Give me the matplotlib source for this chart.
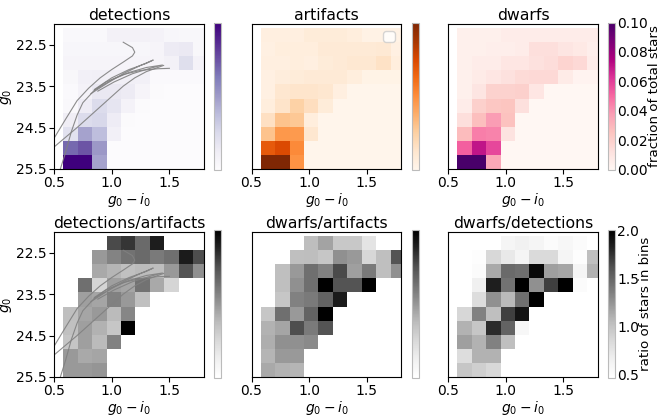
import numpy as np
import matplotlib
matplotlib.use('Agg')
import matplotlib.pyplot as plt

nan = np.nan

# histogram bin edges (colour g0-i0, magnitude g0)
color_edges = [0.58, 0.705, 0.83, 0.955, 1.08, 1.205, 1.33, 1.455, 1.58, 1.705, 1.83]
mag_edges = [22.1, 22.44, 22.78, 23.12, 23.46, 23.8, 24.14, 24.48, 24.82, 25.16, 25.5]

# fraction of total stars per bin, rows bright -> faint, columns blue -> red
detections = [
    [0.003, 0.003, 0.003, 0.009, 0.009, 0.009, 0.008, 0.005, 0.004, 0.004],
    [0.005, 0.005, 0.005, 0.005, 0.005, 0.005, 0.006, 0.014, 0.015, 0.004],
    [0.006, 0.006, 0.006, 0.006, 0.006, 0.006, 0.006, 0.009, 0.022, 0.008],
    [0.004, 0.010, 0.011, 0.011, 0.011, 0.010, 0.002, 0.002, 0.002, 0.002],
    [0.002, 0.008, 0.016, 0.016, 0.014, 0.006, 0.001, 0.000, 0.000, 0.000],
    [0.003, 0.013, 0.024, 0.018, 0.008, 0.001, 0.000, 0.000, 0.000, 0.000],
    [0.012, 0.024, 0.026, 0.013, 0.001, 0.000, 0.000, 0.000, 0.000, 0.000],
    [0.020, 0.047, 0.037, 0.010, 0.000, 0.000, 0.000, 0.000, 0.000, 0.000],
    [0.068, 0.074, 0.051, 0.000, 0.000, 0.000, 0.000, 0.000, 0.000, 0.000],
    [0.104, 0.104, 0.047, 0.000, 0.000, 0.000, 0.000, 0.000, 0.000, 0.000],
]
artifacts = [
    [0.005, 0.005, 0.005, 0.008, 0.008, 0.008, 0.006, 0.003, 0.003, 0.003],
    [0.004, 0.006, 0.006, 0.006, 0.009, 0.009, 0.009, 0.009, 0.010, 0.004],
    [0.005, 0.005, 0.006, 0.005, 0.008, 0.009, 0.011, 0.011, 0.015, 0.006],
    [0.004, 0.007, 0.008, 0.009, 0.009, 0.009, 0.006, 0.002, 0.002, 0.002],
    [0.004, 0.012, 0.013, 0.013, 0.012, 0.005, 0.000, 0.000, 0.000, 0.000],
    [0.006, 0.014, 0.024, 0.017, 0.008, 0.000, 0.000, 0.000, 0.000, 0.000],
    [0.016, 0.030, 0.028, 0.006, 0.000, 0.000, 0.000, 0.000, 0.000, 0.000],
    [0.030, 0.046, 0.045, 0.012, 0.000, 0.000, 0.000, 0.000, 0.000, 0.000],
    [0.068, 0.074, 0.051, 0.000, 0.000, 0.000, 0.000, 0.000, 0.000, 0.000],
    [0.103, 0.103, 0.048, 0.000, 0.000, 0.000, 0.000, 0.000, 0.000, 0.000],
]
dwarfs = [
    [0.004, 0.004, 0.004, 0.006, 0.006, 0.006, 0.006, 0.006, 0.006, 0.006],
    [0.004, 0.004, 0.005, 0.005, 0.006, 0.013, 0.013, 0.010, 0.008, 0.005],
    [0.004, 0.006, 0.006, 0.009, 0.009, 0.012, 0.014, 0.018, 0.016, 0.006],
    [0.004, 0.007, 0.009, 0.012, 0.015, 0.016, 0.016, 0.007, 0.002, 0.002],
    [0.004, 0.010, 0.019, 0.019, 0.020, 0.009, 0.000, 0.000, 0.000, 0.000],
    [0.006, 0.020, 0.024, 0.025, 0.0125, 0.000, 0.000, 0.000, 0.000, 0.000],
    [0.013, 0.027, 0.038, 0.026, 0.000, 0.000, 0.000, 0.000, 0.000, 0.000],
    [0.028, 0.045, 0.044, 0.011, 0.000, 0.000, 0.000, 0.000, 0.000, 0.000],
    [0.052, 0.070, 0.058, 0.000, 0.000, 0.000, 0.000, 0.000, 0.000, 0.000],
    [0.103, 0.103, 0.035, 0.000, 0.000, 0.000, 0.000, 0.000, 0.000, 0.000],
]

# ratios of stars in bins
det_over_art = [
    [nan, nan, nan, 1.65, 1.74, 1.48, 1.85, nan, nan, nan],
    [nan, nan, 1.22, 1.34, 1.43, 1.48, 1.39, 1.45, 1.86, 1.63],
    [nan, nan, 1.14, 1.08, 1.02, 1.05, 1.04, 1.22, 1.60, 1.27],
    [nan, 1.45, 0.88, 1.19, 1.16, 1.43, 1.14, 0.88, nan, nan],
    [nan, 1.19, 1.16, 1.35, 1.22, 1.02, nan, nan, nan, nan],
    [1.03, 1.16, 1.22, 1.05, 1.32, nan, nan, nan, nan, nan],
    [1.02, 1.19, 1.10, 0.98, 2.30, nan, nan, nan, nan, nan],
    [0.99, 1.19, 1.05, 1.35, nan, nan, nan, nan, nan, nan],
    [1.22, 1.14, 1.16, nan, nan, nan, nan, nan, nan, nan],
    [1.22, 1.22, 1.24, nan, nan, nan, nan, nan, nan, nan],
]
dwa_over_art = [
    [nan, nan, nan, 1.04, 1.17, 0.97, 0.97, 0.76, nan, nan],
    [nan, nan, 1.03, 1.04, 0.98, 1.27, 1.22, 0.87, 1.03, 1.60],
    [nan, 1.03, 1.22, 1.45, 1.35, 1.65, 1.19, 1.39, 1.03, 1.27],
    [nan, 1.03, 1.27, 1.45, 2.10, 1.60, 1.60, 2.10, nan, nan],
    [nan, 0.98, 1.35, 1.39, 1.52, 1.86, nan, nan, nan, nan],
    [0.98, 1.45, 1.22, 1.52, 2.10, nan, nan, nan, nan, nan],
    [1.10, 1.16, 1.63, 1.39, 1.60, nan, nan, nan, nan, nan],
    [1.12, 1.27, 1.27, 1.30, nan, nan, nan, nan, nan, nan],
    [1.08, 1.22, 1.22, nan, nan, nan, nan, nan, nan, nan],
    [1.14, 1.10, 1.08, nan, nan, nan, nan, nan, nan, nan],
]
dwa_over_det = [
    [nan, nan, nan, 0.60, 0.65, 0.60, 0.52, 0.57, 0.52, nan],
    [nan, 0.50, 0.86, 0.72, 0.60, 0.85, 0.85, 0.60, 0.50, 1.03],
    [nan, 0.52, 1.14, 1.48, 1.45, 1.95, 1.19, 1.16, 0.60, 1.10],
    [nan, 0.66, 1.84, 1.43, 2.10, 1.27, 1.70, 2.10, 0.52, nan],
    [nan, 0.82, 1.27, 1.06, 1.45, 2.10, nan, nan, nan, nan],
    [0.87, 1.35, 1.03, 1.70, 1.90, nan, nan, nan, nan, nan],
    [1.10, 0.98, 1.78, 1.52, 0.57, nan, nan, nan, nan, nan],
    [1.19, 1.10, 1.35, 1.03, nan, nan, nan, nan, nan, nan],
    [0.82, 1.10, 1.10, nan, nan, nan, nan, nan, nan, nan],
    [0.98, 0.92, 0.86, nan, nan, nan, nan, nan, nan, nan],
]

# isochrone tracks (g0-i0, g0)
iso1_col = [0.50, 0.60, 0.70, 0.80, 0.90, 1.00, 1.10, 1.18, 1.20, 1.18, 1.10]
iso1_mag = [24.76, 24.30, 23.85, 23.55, 23.30, 23.10, 22.92, 22.77, 22.68, 22.57, 22.44]
iso2_col = [0.555, 0.60, 0.65, 0.70, 0.75, 0.85, 0.95, 1.10, 1.25, 1.40, 1.50]
iso2_mag = [25.50, 25.10, 24.60, 24.20, 23.90, 23.60, 23.40, 23.22, 23.12, 23.08, 23.07]
iso3_col = [0.50, 0.70, 0.90, 1.10, 1.20, 1.30, 1.40, 1.45]
iso3_mag = [24.97, 24.50, 24.00, 23.50, 23.30, 23.15, 23.05, 23.00]
iso4_col = [0.82, 0.95, 1.10, 1.25, 1.36, 1.30, 1.15, 1.00, 0.85]
iso4_mag = [23.68, 23.45, 23.20, 23.00, 22.87, 22.95, 23.10, 23.30, 23.58]
iso5_col = [0.85, 1.00, 1.15, 1.30, 1.44, 1.32, 1.18, 1.02, 0.88]
iso5_mag = [23.60, 23.35, 23.17, 23.05, 22.99, 23.08, 23.20, 23.40, 23.62]
isochrones = [(iso1_col, iso1_mag), (iso2_col, iso2_mag), (iso3_col, iso3_mag),
              (iso4_col, iso4_mag), (iso5_col, iso5_mag)]

top_titles = ['detections', 'artifacts', 'dwarfs']
top_cmaps = ['Purples', 'Oranges', 'RdPu']
bot_titles = ['detections/artifacts', 'dwarfs/artifacts', 'dwarfs/detections']

fig = plt.figure(figsize=(6.6, 4.16), dpi=100)
W, H = 660.0, 416.0

def px_axes(x0, y0, w, h):
    return fig.add_axes([x0 / W, 1 - (y0 + h) / H, w / W, h / H])

col_x = [54, 251.5, 448]
row_y = [24, 232]
aw, ah = 150, 145

panels = [
    (0, 0, detections, top_cmaps[0], top_titles[0], (0, 0.1)),
    (0, 1, artifacts, top_cmaps[1], top_titles[1], (0, 0.1)),
    (0, 2, dwarfs, top_cmaps[2], top_titles[2], (0, 0.1)),
    (1, 0, det_over_art, 'Greys', bot_titles[0], (0.47, 2.0)),
    (1, 1, dwa_over_art, 'Greys', bot_titles[1], (0.47, 2.0)),
    (1, 2, dwa_over_det, 'Greys', bot_titles[2], (0.47, 2.0)),
]

for r, c, vals, cmap, title, (vmin, vmax) in panels:
    ax = px_axes(col_x[c], row_y[r], aw, ah)
    data = np.ma.masked_invalid(np.array(vals, dtype=float))
    mesh = ax.pcolormesh(color_edges, mag_edges, data, cmap=cmap, vmin=vmin, vmax=vmax)
    if c == 0:
        for xs, ys in isochrones:
            ax.plot(xs, ys, color='gray', lw=0.8, alpha=0.9)
        ax.set_ylabel('$g_0$', fontsize=10, labelpad=2)
        ax.set_yticks([22.5, 23.5, 24.5, 25.5])
    else:
        ax.set_yticks([])
    if r == 0 and c == 1:
        ax.legend(handles=[], loc='upper right')
    ax.set_xlim(0.5, 1.8)
    ax.set_ylim(25.5, 22.0)
    ax.set_xticks([0.5, 1.0, 1.5])
    ax.tick_params(labelsize=10, pad=1.5)
    ax.set_xlabel('$g_0 - i_0$', fontsize=10, labelpad=1)
    ax.set_title(title, fontsize=11.3, pad=3)

    cax = px_axes(col_x[c] + aw + 10, row_y[r] - 1.5, 7, ah + 2)
    cb = fig.colorbar(mesh, cax=cax)
    cb.outline.set_edgecolor('#bbbbbb')
    cb.outline.set_linewidth(0.8)
    if c == 2:
        if r == 0:
            cb.set_ticks([0.0, 0.02, 0.04, 0.06, 0.08, 0.10])
            cb.set_label('fraction of total stars', fontsize=9.6, labelpad=0)
        else:
            cb.set_ticks([0.5, 1.0, 1.5, 2.0])
            cb.set_label('ratio of stars in bins', fontsize=9.6, labelpad=0)
        cb.ax.tick_params(labelsize=10, length=0, pad=1.5)
    else:
        cb.set_ticks([])

fig.savefig('out.png', dpi=100)
